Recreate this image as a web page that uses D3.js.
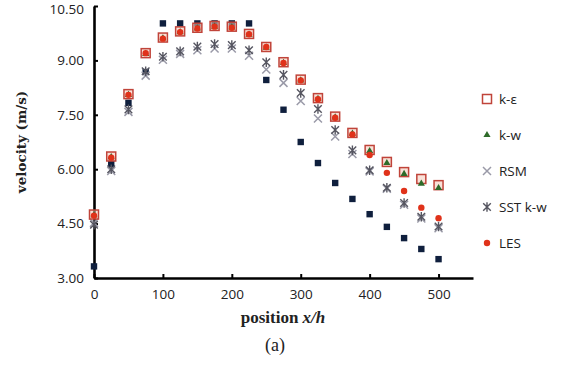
<!DOCTYPE html>
<html><head><meta charset="utf-8">
<script src="https://cdn.jsdelivr.net/npm/d3@7"></script>
<style>body{margin:0;background:#fff}svg{display:block}</style>
</head><body>
<svg id="c" width="574" height="365"></svg>
<script>
const positions = [0,25,50,75,100,125,150,175,200,225,250,275,300,325,350,375,400,425,450,475,500];
const experiment = [3.32,6.15,7.83,8.68,10.02,10.02,10.02,10.02,10.02,10.02,8.46,7.64,6.75,6.17,5.62,5.18,4.76,4.41,4.10,3.80,3.52];
const kEps = [4.75,6.35,8.07,9.20,9.63,9.80,9.90,9.95,9.93,9.73,9.37,8.95,8.47,7.96,7.45,7.00,6.53,6.20,5.92,5.73,5.56];
const kW = [4.73,6.33,8.05,9.18,9.61,9.78,9.88,9.93,9.91,9.71,9.35,8.93,8.45,7.94,7.43,6.98,6.50,6.17,5.87,5.60,5.48];
const rsm = [4.52,5.95,7.58,8.58,9.02,9.18,9.28,9.33,9.33,9.13,8.75,8.38,7.88,7.40,6.90,6.42,5.94,5.46,5.02,4.64,4.37];
const sst = [4.47,6.00,7.65,8.70,9.10,9.25,9.38,9.45,9.42,9.28,8.95,8.60,8.10,7.66,7.08,6.52,5.97,5.49,5.07,4.69,4.42];
const les = [4.72,6.32,8.05,9.20,9.60,9.78,9.88,9.93,9.90,9.72,9.37,8.93,8.45,7.93,7.42,6.96,6.39,5.90,5.40,4.94,4.65];
const xTicks = [0,100,200,300,400,500];
const yTicks = [3.00,4.50,6.00,7.50,9.00,10.50];
const legendLabels = ["k-\u03B5","k-w","RSM","SST k-w","LES"];

const svg = d3.select("#c");
const x = d3.scaleLinear().domain([0,550]).range([94,473]);
const y = d3.scaleLinear().domain([3,10.5]).range([278,6]);

// axes
const gx = svg.append("g").attr("transform","translate(0,278)")
  .call(d3.axisBottom(x).tickValues(xTicks).tickSizeInner(-4).tickSizeOuter(0).tickPadding(9).tickFormat(d3.format("d")));
const gy = svg.append("g").attr("transform","translate(94,0)")
  .call(d3.axisLeft(y).tickValues(yTicks).tickSizeInner(-4).tickSizeOuter(0).tickPadding(10).tickFormat(d3.format(".2f")));
[gx,gy].forEach(g=>{
  g.select(".domain").attr("stroke","#000").attr("stroke-width",2.6);
  g.selectAll(".tick line").attr("stroke","#000").attr("stroke-width",2);
  g.selectAll(".tick text").attr("fill","#222").style("font-family","'Open Sans',sans-serif").style("font-size","13.5px");
});
gx.selectAll(".tick text").attr("dy","0.9em");
gy.selectAll(".tick text").filter(d=>d===10.5).attr("dy","0.55em");

const pts = arr => positions.map((p,i)=>({p, v:arr[i]}));

// experiment navy squares
svg.append("g").selectAll("rect").data(pts(experiment)).join("rect")
  .attr("x",d=>x(d.p)-3.2).attr("y",d=>y(d.v)-3.2).attr("width",6.4).attr("height",6.4)
  .attr("fill","#0f1f3d");
// RSM X
const xPath = s => `M${-s},${-s}L${s},${s}M${-s},${s}L${s},${-s}`;
svg.append("g").selectAll("path").data(pts(rsm)).join("path")
  .attr("transform",d=>`translate(${x(d.p)},${y(d.v)})`)
  .attr("d",xPath(4)).attr("stroke","#9a9aa8").attr("stroke-width",1.5).attr("fill","none");
// SST asterisk
const astPath = s => `M${-s},${-s}L${s},${s}M${-s},${s}L${s},${-s}M0,${-s-1}L0,${s+1}`;
svg.append("g").selectAll("path").data(pts(sst)).join("path")
  .attr("transform",d=>`translate(${x(d.p)},${y(d.v)})`)
  .attr("d",astPath(3.8)).attr("stroke","#555560").attr("stroke-width",1.4).attr("fill","none");
// k-eps open squares
svg.append("g").selectAll("rect").data(pts(kEps)).join("rect")
  .attr("x",d=>x(d.p)-4.5).attr("y",d=>y(d.v)-4.5).attr("width",9).attr("height",9)
  .attr("fill","#f4c8b8").attr("fill-opacity",0.55).attr("stroke","#c0443a").attr("stroke-width",1.5);
// k-w triangles
const tri = d3.symbol().type(d3.symbolTriangle).size(22);
svg.append("g").selectAll("path").data(pts(kW)).join("path")
  .attr("transform",d=>`translate(${x(d.p)},${y(d.v)})`)
  .attr("d",tri).attr("fill","#2e6b2a");
// LES circles
svg.append("g").selectAll("circle").data(pts(les)).join("circle")
  .attr("cx",d=>x(d.p)).attr("cy",d=>y(d.v)).attr("r",3.2).attr("fill","#e0321a");

// legend
const legY = [99,135,171,207,243];
const lg = svg.append("g");
legendLabels.forEach((lab,i)=>{
  const cy = legY[i], cx = 487;
  if(i===0) lg.append("rect").attr("x",cx-4.5).attr("y",cy-4.5).attr("width",9).attr("height",9).attr("fill","none").attr("stroke","#c0443a").attr("stroke-width",1.5);
  if(i===1) lg.append("path").attr("transform",`translate(${cx},${cy})`).attr("d",tri).attr("fill","#2e6b2a");
  if(i===2) lg.append("path").attr("transform",`translate(${cx},${cy})`).attr("d",xPath(4)).attr("stroke","#9a9aa8").attr("stroke-width",1.5);
  if(i===3) lg.append("path").attr("transform",`translate(${cx},${cy})`).attr("d",astPath(3.8)).attr("stroke","#555560").attr("stroke-width",1.4);
  if(i===4) lg.append("circle").attr("cx",cx).attr("cy",cy).attr("r",3.2).attr("fill","#e0321a");
  lg.append("text").attr("x",499).attr("y",cy).attr("dy","0.35em").text(lab)
    .style("font-family","'Open Sans',sans-serif").style("font-size","13.5px").attr("fill","#222");
});

// titles
svg.append("text").attr("transform","translate(26,142) rotate(-90)").attr("text-anchor","middle")
  .style("font-family","'DejaVu Serif',serif").style("font-weight","bold").style("font-size","13.5px").attr("fill","#222")
  .text("velocity (m/s)");
const xt = svg.append("text").attr("x",283).attr("y",323).attr("text-anchor","middle")
  .style("font-family","'Liberation Serif',serif").style("font-weight","bold").style("font-size","17px").attr("fill","#222");
xt.append("tspan").text("position ");
xt.append("tspan").style("font-style","italic").text("x/h");
svg.append("text").attr("x",275).attr("y",351).attr("text-anchor","middle")
  .style("font-family","'Liberation Serif',serif").style("font-size","18px").attr("fill","#222").text("(a)");
</script>
</body></html>
